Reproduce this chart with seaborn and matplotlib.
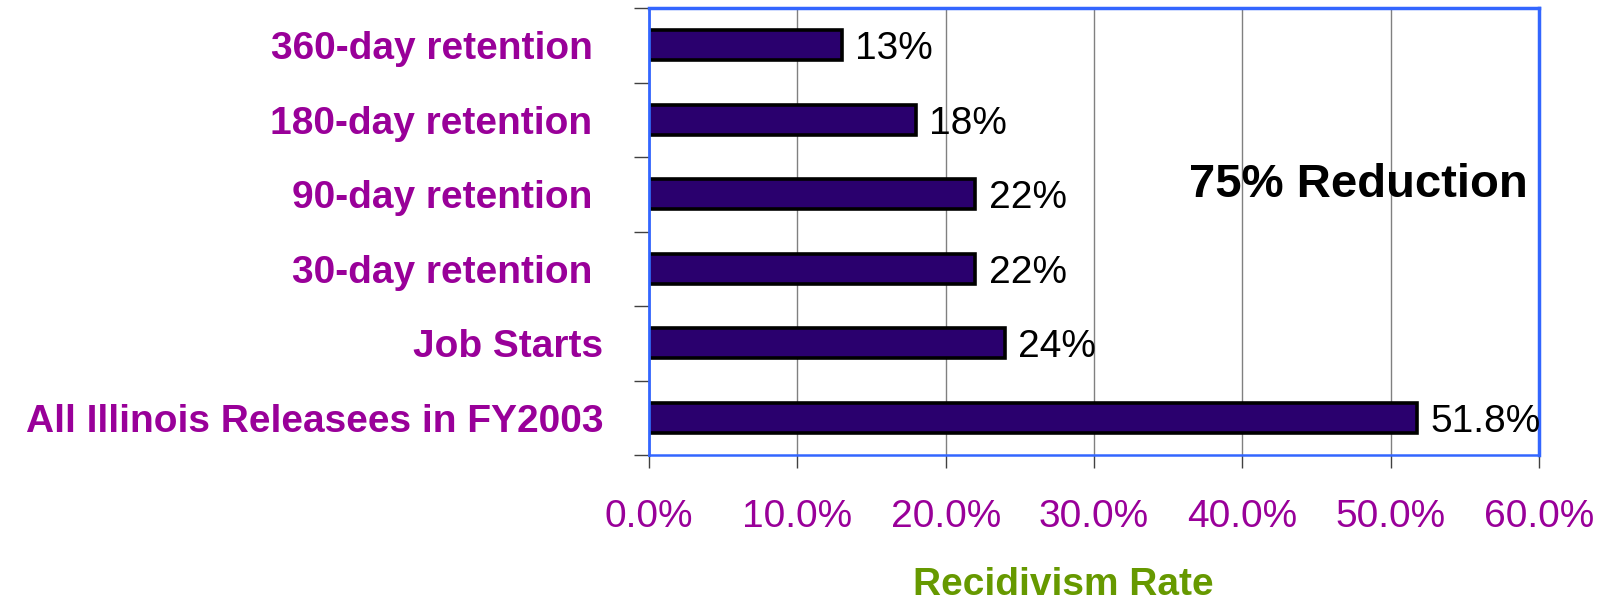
import matplotlib
matplotlib.use("Agg")
import matplotlib.pyplot as plt
import seaborn as sns
import pandas as pd
import numpy as np

categories = ["360-day retention ", "180-day retention ", "90-day retention ",
              "30-day retention ", "Job Starts", "All Illinois Releasees in FY2003"]
rates = [13.0, 18.0, 22.0, 22.0, 24.0, 51.8]
value_labels = ["13%", "18%", "22%", "22%", "24%", "51.8%"]
x_ticks = [0, 10, 20, 30, 40, 50, 60]
x_tick_labels = ["0.0%", "10.0%", "20.0%", "30.0%", "40.0%", "50.0%", "60.0%"]
annotation = "75% Reduction"
x_title = "Recidivism Rate"

sns.set_style("white")
plt.rcParams["font.family"] = ["Liberation Sans", "DejaVu Sans"]

df = pd.DataFrame({"category": categories, "rate": rates})

fig = plt.figure(figsize=(16.03, 6.02), dpi=100)
ax = fig.add_axes([649 / 1603, 1 - 455 / 602, 890 / 1603, 447 / 602])

sns.barplot(data=df, x="rate", y="category", orient="h", ax=ax,
            color="#2a006e", width=0.405, edgecolor="black", linewidth=2.6,
            saturation=1)

ax.set_xlim(0, 60)
ax.set_ylim(len(categories) - 0.5, -0.5)

# grid
ax.set_axisbelow(True)
ax.xaxis.grid(True, color="#808080", linewidth=1.0)
ax.yaxis.grid(False)

# x ticks
ax.set_xticks(x_ticks)
ax.set_xticklabels(x_tick_labels, color="#990099", fontsize=28)
ax.tick_params(axis="x", which="major", length=9, width=1, color="#404040",
               direction="out", pad=23, bottom=True)

# y ticks: labels at categories, tick marks between categories
ax.set_yticks(range(len(categories)))
ax.set_yticklabels(categories, color="#990099", fontsize=28, fontweight="bold")
ax.tick_params(axis="y", which="major", length=0, pad=33)
ax.set_yticks(np.arange(-0.5, len(categories), 1.0), minor=True)
ax.tick_params(axis="y", which="minor", length=11, width=1, color="#404040",
               direction="out", left=True)

for side in ["left", "right", "top", "bottom"]:
    ax.spines[side].set_visible(True)
    ax.spines[side].set_color("#3366ff")
ax.spines["top"].set_linewidth(2.5)
ax.spines["right"].set_linewidth(2.5)
ax.spines["left"].set_linewidth(2.0)
ax.spines["bottom"].set_linewidth(1.8)

# value labels
for i, (v, lab) in enumerate(zip(rates, value_labels)):
    ax.text(v + 0.9, i, lab, ha="left", va="center_baseline",
            fontsize=28, color="black")

ax.text(0.797, 0.577, annotation, transform=ax.transAxes, ha="center",
        va="baseline", fontsize=34, fontweight="bold", color="black")

ax.set_ylabel("")
ax.set_xlabel(x_title, color="#669900", fontsize=28, fontweight="bold")
ax.xaxis.set_label_coords(0.465, -0.291)
ax.xaxis.label.set_verticalalignment("center")

fig.savefig("out.png", dpi=100)
